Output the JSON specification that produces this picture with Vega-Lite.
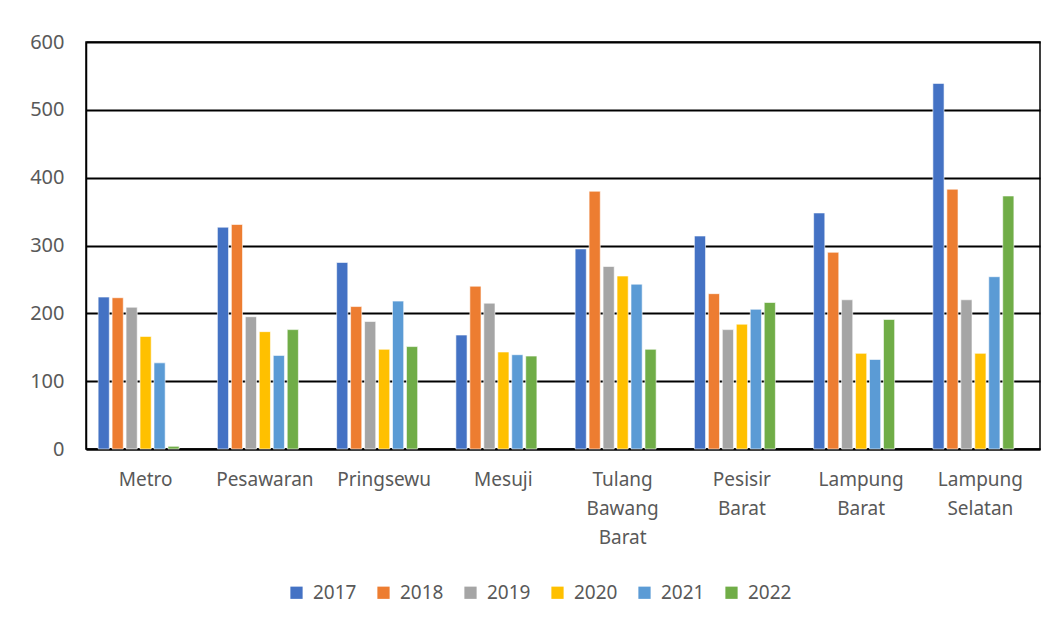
{
  "$schema": "https://vega.github.io/schema/vega-lite/v6.json",
  "width": 954,
  "height": 407,
  "autosize": {"type": "none"},
  "padding": {"left": 86, "top": 42, "right": 19, "bottom": 174},
  "background": "white",
  "config": {
    "font": "Noto Sans",
    "view": {"stroke": "black", "strokeWidth": 1.5}
  },
  "data": {
    "values": [
      {"region": "Metro", "year": "2017", "value": 224},
      {"region": "Metro", "year": "2018", "value": 223},
      {"region": "Metro", "year": "2019", "value": 209},
      {"region": "Metro", "year": "2020", "value": 166},
      {"region": "Metro", "year": "2021", "value": 127},
      {"region": "Metro", "year": "2022", "value": 4},
      {"region": "Pesawaran", "year": "2017", "value": 327},
      {"region": "Pesawaran", "year": "2018", "value": 331},
      {"region": "Pesawaran", "year": "2019", "value": 195},
      {"region": "Pesawaran", "year": "2020", "value": 173},
      {"region": "Pesawaran", "year": "2021", "value": 138},
      {"region": "Pesawaran", "year": "2022", "value": 176},
      {"region": "Pringsewu", "year": "2017", "value": 275},
      {"region": "Pringsewu", "year": "2018", "value": 210},
      {"region": "Pringsewu", "year": "2019", "value": 188},
      {"region": "Pringsewu", "year": "2020", "value": 147},
      {"region": "Pringsewu", "year": "2021", "value": 218},
      {"region": "Pringsewu", "year": "2022", "value": 151},
      {"region": "Mesuji", "year": "2017", "value": 168},
      {"region": "Mesuji", "year": "2018", "value": 240},
      {"region": "Mesuji", "year": "2019", "value": 215},
      {"region": "Mesuji", "year": "2020", "value": 143},
      {"region": "Mesuji", "year": "2021", "value": 139},
      {"region": "Mesuji", "year": "2022", "value": 137},
      {"region": "Tulang Bawang Barat", "year": "2017", "value": 295},
      {"region": "Tulang Bawang Barat", "year": "2018", "value": 380},
      {"region": "Tulang Bawang Barat", "year": "2019", "value": 269},
      {"region": "Tulang Bawang Barat", "year": "2020", "value": 255},
      {"region": "Tulang Bawang Barat", "year": "2021", "value": 243},
      {"region": "Tulang Bawang Barat", "year": "2022", "value": 147},
      {"region": "Pesisir Barat", "year": "2017", "value": 314},
      {"region": "Pesisir Barat", "year": "2018", "value": 229},
      {"region": "Pesisir Barat", "year": "2019", "value": 176},
      {"region": "Pesisir Barat", "year": "2020", "value": 184},
      {"region": "Pesisir Barat", "year": "2021", "value": 206},
      {"region": "Pesisir Barat", "year": "2022", "value": 216},
      {"region": "Lampung Barat", "year": "2017", "value": 348},
      {"region": "Lampung Barat", "year": "2018", "value": 290},
      {"region": "Lampung Barat", "year": "2019", "value": 220},
      {"region": "Lampung Barat", "year": "2020", "value": 141},
      {"region": "Lampung Barat", "year": "2021", "value": 132},
      {"region": "Lampung Barat", "year": "2022", "value": 191},
      {"region": "Lampung Selatan", "year": "2017", "value": 539},
      {"region": "Lampung Selatan", "year": "2018", "value": 383},
      {"region": "Lampung Selatan", "year": "2019", "value": 220},
      {"region": "Lampung Selatan", "year": "2020", "value": 141},
      {"region": "Lampung Selatan", "year": "2021", "value": 254},
      {"region": "Lampung Selatan", "year": "2022", "value": 373}
    ]
  },
  "mark": {"type": "bar", "stroke": "white", "strokeWidth": 0.6},
  "encoding": {
    "x": {
      "field": "region",
      "type": "nominal",
      "scale": {
        "domain": ["Metro", "Pesawaran", "Pringsewu", "Mesuji", "Tulang Bawang Barat", "Pesisir Barat", "Lampung Barat", "Lampung Selatan"],
        "paddingInner": 0.18,
        "paddingOuter": 0.09
      },
      "axis": {
        "title": null,
        "labelAngle": 0,
        "labelExpr": "split(datum.label, ' ')",
        "labelFontSize": 19,
        "labelColor": "#595959",
        "labelPadding": 21,
        "labelLineHeight": 29,
        "labelBaseline": "top",
        "ticks": false,
        "domainColor": "black",
        "domainWidth": 2
      }
    },
    "xOffset": {
      "field": "year",
      "type": "nominal",
      "scale": {
        "domain": ["2017", "2018", "2019", "2020", "2021", "2022", "2023"],
        "paddingInner": 0.2,
        "paddingOuter": 0.1
      }
    },
    "y": {
      "field": "value",
      "type": "quantitative",
      "scale": {"domain": [0, 600], "nice": false},
      "axis": {
        "title": null,
        "values": [0, 100, 200, 300, 400, 500, 600],
        "labelFontSize": 20,
        "labelColor": "#595959",
        "labelPadding": 22,
        "ticks": false,
        "domain": true,
        "domainColor": "black",
        "domainWidth": 1.5,
        "grid": true,
        "gridColor": "black",
        "gridWidth": 2
      }
    },
    "color": {
      "field": "year",
      "type": "nominal",
      "scale": {
        "domain": ["2017", "2018", "2019", "2020", "2021", "2022"],
        "range": ["#4472C4", "#ED7D31", "#A5A5A5", "#FFC000", "#5B9BD5", "#70AD47"]
      },
      "legend": {
        "title": null,
        "orient": "none",
        "legendX": 201,
        "legendY": 541,
        "direction": "horizontal",
        "symbolType": "square",
        "symbolSize": 150,
        "symbolStrokeWidth": 0,
        "labelFontSize": 19,
        "labelColor": "#595959",
        "labelOffset": 7,
        "columnPadding": 17
      }
    }
  }
}
